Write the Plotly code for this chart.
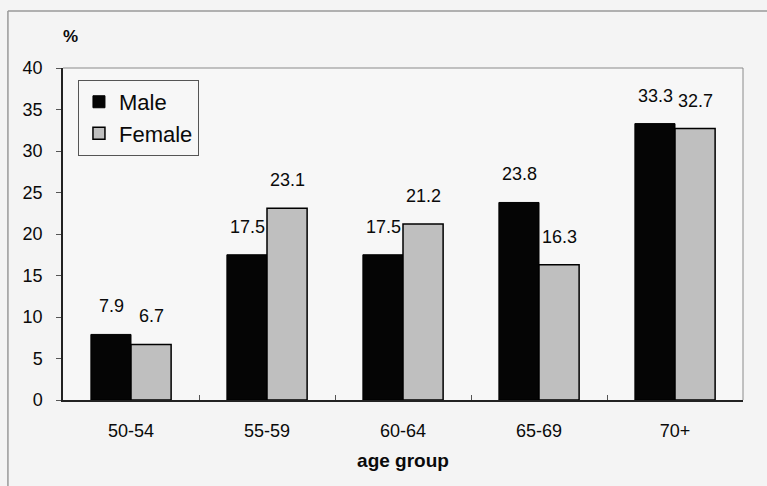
import plotly.graph_objects as go

# Share (%) by age group and sex
age_groups = ["50-54", "55-59", "60-64", "65-69", "70+"]
male = [7.9, 17.5, 17.5, 23.8, 33.3]
female = [6.7, 23.1, 21.2, 16.3, 32.7]
y_ticks = [0, 5, 10, 15, 20, 25, 30, 35, 40]

FONT = "Liberation Sans, Arial, sans-serif"
INK = "#0a0a0a"

fig = go.Figure()
fig.add_trace(go.Bar(
    name="Male", x=age_groups, y=male,
    marker=dict(color="#050505", line=dict(color="#000000", width=1)),
))
fig.add_trace(go.Bar(
    name="Female", x=age_groups, y=female,
    marker=dict(color="#bfbfbf", line=dict(color="#000000", width=1.5)),
))

# Value labels above each bar (male bar is left of the category centre, female right)
for series, shift in ((male, -20), (female, 20)):
    for cat, val in zip(age_groups, series):
        fig.add_annotation(
            x=cat, y=val, text=f"{val:.1f}", showarrow=False,
            xshift=shift, yshift=28, yanchor="middle",
            font=dict(family=FONT, size=18, color=INK),
        )

# "%" unit label over the value axis
fig.add_annotation(
    xref="paper", yref="paper", x=0.011, y=1.096, text="<b>%</b>",
    xanchor="center", yanchor="middle",
    showarrow=False, font=dict(family=FONT, size=17, color=INK),
)

# Plot-area border on top and right, chart frame on top and left
fig.add_shape(type="line", xref="paper", yref="paper", x0=0, y0=1, x1=1, y1=1,
              line=dict(color="#8a8a8a", width=1))
fig.add_shape(type="line", xref="paper", yref="paper", x0=1, y0=0, x1=1, y1=1,
              line=dict(color="#8a8a8a", width=1))
fig.add_shape(type="line", xref="paper", yref="paper", x0=-0.081, y0=1.172, x1=1.04, y1=1.172,
              line=dict(color="#9a9a9a", width=1.5))
fig.add_shape(type="line", xref="paper", yref="paper", x0=-0.081, y0=1.172, x1=-0.081, y1=-0.3,
              line=dict(color="#9a9a9a", width=1.5))

fig.update_layout(
    width=767, height=486,
    margin=dict(l=63, r=24, t=68, b=86),
    paper_bgcolor="#f4f4f4",
    plot_bgcolor="#f7f7f7",
    barmode="group", bargap=0.41, bargroupgap=0,
    font=dict(family=FONT, size=18, color=INK),
    showlegend=True,
    legend=dict(
        x=0.022, y=0.964, xanchor="left", yanchor="top",
        bgcolor="#f7f7f7", bordercolor="#555555", borderwidth=1,
        font=dict(family=FONT, size=22, color=INK),
        itemwidth=30, tracegroupgap=0,
    ),
    xaxis=dict(
        showgrid=False, showline=True, linecolor="#222222", linewidth=1.5,
        ticks="inside", tickson="boundaries", ticklen=5, tickcolor="#555555",
        tickfont=dict(family=FONT, size=18, color=INK),
        ticklabelstandoff=14,
        title=dict(text="<b>age group</b>", standoff=13,
                   font=dict(family=FONT, size=19, color=INK)),
    ),
    yaxis=dict(
        range=[0, 40], tickvals=y_ticks, showgrid=False, zeroline=False,
        showline=True, linecolor="#222222", linewidth=1.5,
        ticks="outside", ticklen=5, tickcolor="#555555",
        tickfont=dict(family=FONT, size=18, color=INK),
        ticklabelstandoff=10,
    ),
)

fig.write_html("out.html")
